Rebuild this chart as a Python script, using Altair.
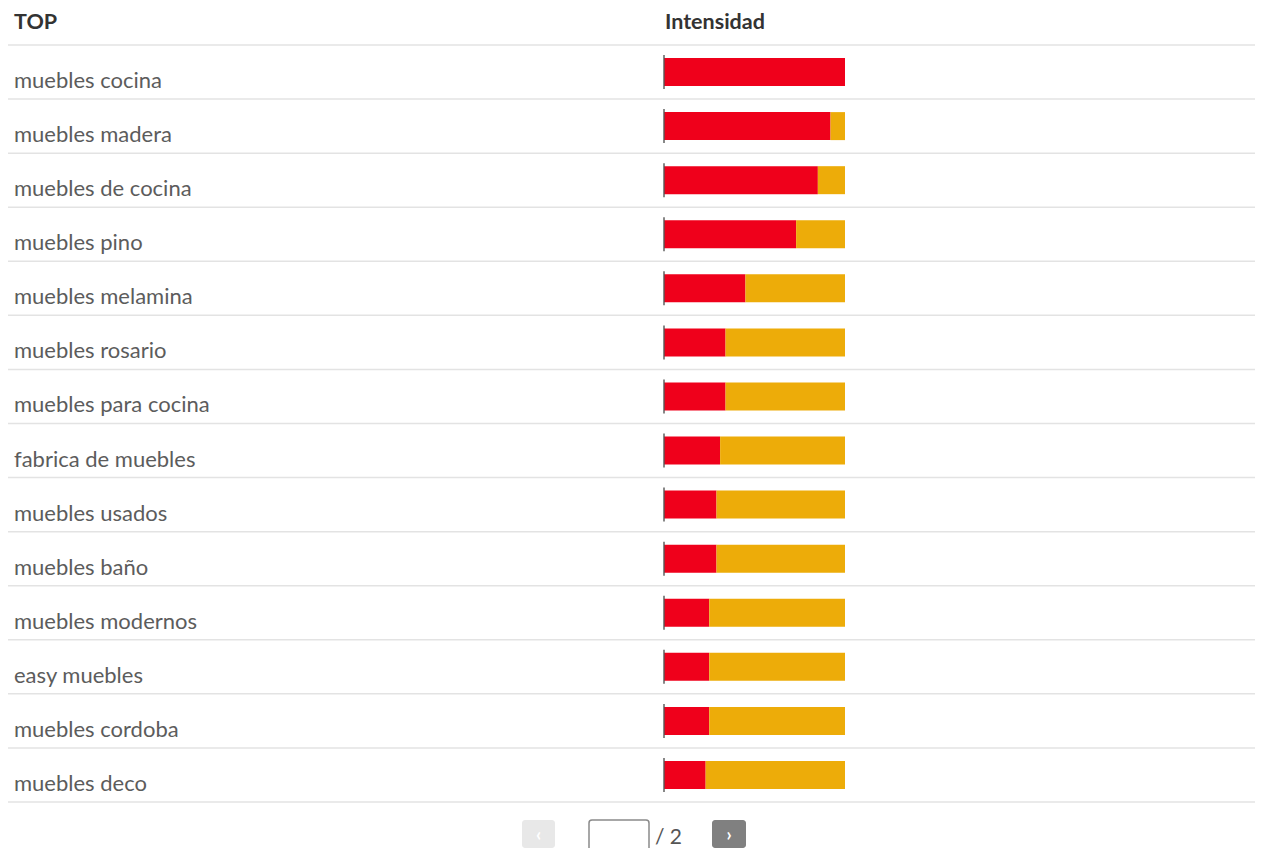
import altair as alt
import pandas as pd

keywords = [
    "muebles cocina", "muebles madera", "muebles de cocina", "muebles pino",
    "muebles melamina", "muebles rosario", "muebles para cocina",
    "fabrica de muebles", "muebles usados", "muebles baño",
    "muebles modernos", "easy muebles", "muebles cordoba", "muebles deco",
]
intensity = [100, 92, 85, 73, 45, 34, 34, 31, 29, 29, 25, 25, 25, 23]
header_labels = ["TOP", "Intensidad"]
total_pages = 2

FONT = "Source Sans Pro, Lato, sans-serif"
RED = "#ef001b"
ORANGE = "#edac09"
LINE = "#e3e3e3"

df = pd.DataFrame({"kw": keywords, "val": intensity})
df["zero"] = 0
df["full"] = 100

W, H = 1247, 840
yscale = alt.Scale(domain=keywords, range=[37, 794], paddingInner=0, paddingOuter=0)
xscale = alt.Scale(domain=[0, 100], range=[656, 837])

base = alt.Chart(df)

Y = alt.Y("kw:N", sort=keywords, scale=yscale, axis=None)

sep = base.mark_rule(color=LINE, strokeWidth=1.5).encode(
    y=alt.Y("kw:N", sort=keywords, scale=yscale, axis=None, bandPosition=1),
    x=alt.value(0), x2=alt.value(W),
)
top_rule = alt.Chart(pd.DataFrame({"a": [0]})).mark_rule(color=LINE, strokeWidth=1.5).encode(
    y=alt.value(37), x=alt.value(0), x2=alt.value(W),
)

red = base.mark_bar(color=RED, height=28).encode(
    y=Y,
    x=alt.X("zero:Q", scale=xscale, axis=None),
    x2="val:Q",
)
orange = base.mark_bar(color=ORANGE, height=28).encode(
    y=Y,
    x=alt.X("val:Q", scale=xscale, axis=None),
    x2="full:Q",
)
ticks = base.mark_tick(color="#555555", thickness=2, size=34, orient="vertical").encode(
    y=Y,
    x=alt.X("zero:Q", scale=xscale, axis=None),
)
labels = base.mark_text(
    font=FONT, fontSize=22, color="#5c5c5c", align="left", baseline="alphabetic", dy=16
).encode(
    y=Y,
    x=alt.value(6),
    text="kw:N",
)

hdr_df = pd.DataFrame({"h": header_labels, "px": [6, 657]})
headers = alt.Chart(hdr_df).mark_text(
    font=FONT, fontSize=21.5, fontWeight="bold", color="#333333", align="left", baseline="alphabetic"
).encode(
    x=alt.X("px:Q", scale=None),
    y=alt.value(21),
    text="h:N",
)

# pagination controls
dummy = pd.DataFrame({"a": [0]})
prev_btn = alt.Chart(dummy).mark_rect(color="#e8e8e8", cornerRadius=3).encode(
    x=alt.value(514), x2=alt.value(547), y=alt.value(812), y2=alt.value(840)
)
prev_txt = alt.Chart(dummy).mark_text(
    text="‹", font=FONT, fontSize=18, fontWeight="bold", color="#ffffff"
).encode(x=alt.value(530.5), y=alt.value(828))
box = alt.Chart(dummy).mark_rect(
    fill="#ffffff", stroke="#8a8a8a", strokeWidth=1.5, cornerRadius=3
).encode(x=alt.value(581), x2=alt.value(641), y=alt.value(812), y2=alt.value(845))
page_txt = alt.Chart(dummy).mark_text(
    text=f"/ {total_pages}", font=FONT, fontSize=21, color="#555555", align="left", baseline="alphabetic"
).encode(x=alt.value(647), y=alt.value(836))
next_btn = alt.Chart(dummy).mark_rect(color="#808080", cornerRadius=3).encode(
    x=alt.value(704), x2=alt.value(738), y=alt.value(812), y2=alt.value(840)
)
next_txt = alt.Chart(dummy).mark_text(
    text="›", font=FONT, fontSize=18, fontWeight="bold", color="#ffffff"
).encode(x=alt.value(721), y=alt.value(828))

chart = alt.layer(
    top_rule, sep, red, orange, ticks, labels, headers,
    prev_btn, prev_txt, box, page_txt, next_btn, next_txt,
).properties(
    width=W, height=H, padding=0, autosize=alt.AutoSizeParams(type="none")
).configure_view(stroke=None)

chart.save("out.html", embed_options={"renderer": "svg", "actions": False})
